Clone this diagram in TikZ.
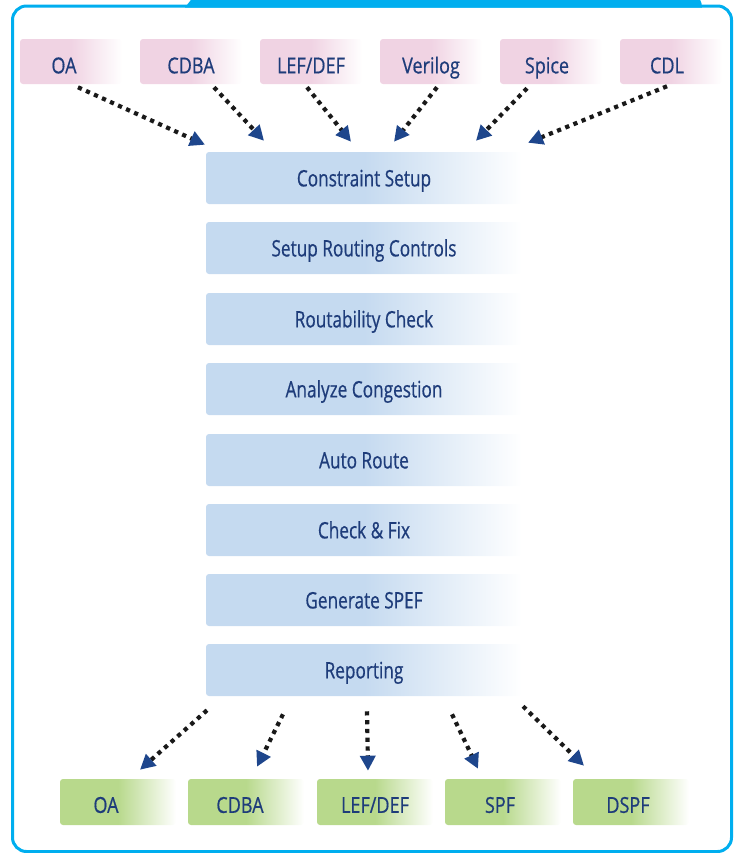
\documentclass[tikz,border=0pt]{standalone}
\usepackage{fontspec}
\setmainfont[FakeStretch=0.82,FakeBold=0.6]{Open Sans}
\newfontfamily\stepfont[FakeStretch=0.76,FakeBold=0.6]{Open Sans}
\usetikzlibrary{arrows.meta,calc}
\definecolor{framecyan}{RGB}{0,174,239}
\definecolor{pinkbox}{RGB}{240,211,227}
\definecolor{bluebox}{RGB}{197,218,240}
\definecolor{greenbox}{RGB}{184,217,140}
\definecolor{txtblue}{RGB}{30,60,122}
\definecolor{arrowblue}{RGB}{30,70,140}
\definecolor{dotblack}{RGB}{25,25,25}
\tikzset{
  boxbase/.style={rounded corners=2.25pt, inner sep=0pt, text=txtblue, text depth=0pt},
  inbox/.style={boxbase, minimum width=76.5pt, minimum height=33.75pt, text height=17.8pt,
    left color=pinkbox, right color=white, middle color=pinkbox, font=\fontsize{16.5pt}{18pt}\selectfont},
  stepbox/.style={boxbase, minimum width=237pt, minimum height=39pt, text height=12.6pt,
    left color=bluebox, right color=white, middle color=bluebox, font=\stepfont\fontsize{17pt}{19pt}\selectfont},
  outbox/.style={boxbase, minimum width=87pt, minimum height=34.5pt, text height=16.3pt,
    left color=greenbox, right color=white, middle color=greenbox, font=\fontsize{16.5pt}{18pt}\selectfont},
  arr/.style={draw=dotblack, line width=3.15pt, dash pattern=on 3.15pt off 3.45pt,
    -{Triangle[length=11.25pt,width=11.25pt,color=arrowblue,fill=arrowblue]}},
}
\begin{document}
\begin{tikzpicture}[x=0.75pt,y=-0.75pt]
\useasboundingbox (0,0) rectangle (740,853);
\clip (0,0) rectangle (740,853);
% frame
\draw[framecyan, line width=2.25pt, rounded corners=10.5pt] (12.5,6) rectangle (731.5,851.5);
\fill[framecyan] (185,7.5) -- (194,-4) -- (694,-4) to[out=0,in=90] (702,7.5) -- cycle;
% input boxes
\node[inbox] (t1) at (71,61.5) {\hspace*{-10.5pt}OA};
\node[inbox] (t2) at (191,61.5) {CDBA};
\node[inbox] (t3) at (311,61.5) {LEF/DEF};
\node[inbox] (t4) at (431,61.5) {Verilog};
\node[inbox] (t5) at (551,61.5) {\hspace*{-6pt}Spice};
\node[inbox] (t6) at (671,61.5) {\hspace*{-6pt}CDL};
% steps
\node[stepbox] (c1) at (364,178) {Constraint Setup};
\node[stepbox] (c2) at (364,248) {Setup Routing Controls};
\node[stepbox] (c3) at (364,319) {Routability Check};
\node[stepbox] (c4) at (364,389) {Analyze Congestion};
\node[stepbox] (c5) at (364,460) {Auto Route};
\node[stepbox] (c6) at (364,530) {Check \& Fix};
\node[stepbox] (c7) at (364,600) {Generate SPEF};
\node[stepbox] (c8) at (364,670) {Reporting};
% output boxes
\node[outbox] (b1) at (118,802) {\hspace*{-18pt}OA};
\node[outbox] (b2) at (246,802) {\hspace*{-9pt}CDBA};
\node[outbox] (b3) at (375,802) {LEF/DEF};
\node[outbox] (b4) at (503,802) {\hspace*{-4.5pt}SPF};
\node[outbox] (b5) at (631,802) {\hspace*{-4.5pt}DSPF};
% input arrows
\draw[arr] ($(t1.south)+(7,3)$) -- ($(c1.north)+(-159,-7)$);
\draw[arr] ($(t2.south)+(23,3)$) -- ($(c1.north)+(-100,-11)$);
\draw[arr] ($(t3.south)+(-4,3)$) -- ($(c1.north)+(-13,-10)$);
\draw[arr] ($(t4.south)+(6,3)$) -- ($(c1.north)+(30,-10)$);
\draw[arr] ($(t5.south)+(-24,4)$) -- ($(c1.north)+(112,-11)$);
\draw[arr] ($(t6.south)+(-4,2)$) -- ($(c1.north)+(164,-9)$);
% output arrows
\draw[arr] ($(c8.south)+(-157,14)$) -- ($(b1.north)+(22,-9)$);
\draw[arr] ($(c8.south)+(-81,18)$) -- ($(b2.north)+(11,-12)$);
\draw[arr] ($(c8.south)+(3,15)$) -- ($(b3.north)+(-7,-8)$);
\draw[arr] ($(c8.south)+(88,18)$) -- ($(b4.north)+(-25,-10)$);
\draw[arr] ($(c8.south)+(159,10)$) -- ($(b5.north)+(-47,-13)$);
\end{tikzpicture}
\end{document}
